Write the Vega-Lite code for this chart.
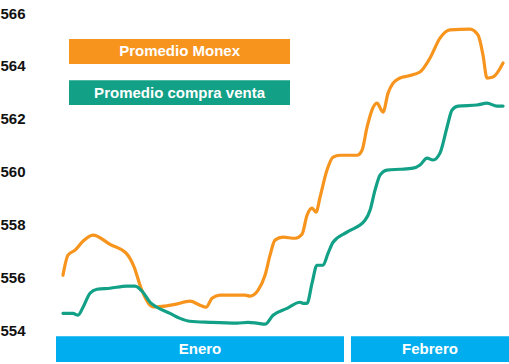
{
  "$schema": "https://vega.github.io/schema/vega-lite/v6.json",
  "width": 453,
  "height": 349,
  "autosize": {"type": "none"},
  "padding": {"left": 56, "top": 13, "right": 0, "bottom": 0},
  "config": {"view": {"stroke": null}, "font": "Liberation Sans"},
  "datasets": {
    "series": [
      {"serie": "Promedio Monex", "dia": 0.75, "valor": 556.08},
      {"serie": "Promedio Monex", "dia": 1.29, "valor": 556.84},
      {"serie": "Promedio Monex", "dia": 2.05, "valor": 557.03},
      {"serie": "Promedio Monex", "dia": 2.91, "valor": 557.37},
      {"serie": "Promedio Monex", "dia": 3.98, "valor": 557.6},
      {"serie": "Promedio Monex", "dia": 5.81, "valor": 557.25},
      {"serie": "Promedio Monex", "dia": 7.64, "valor": 556.88},
      {"serie": "Promedio Monex", "dia": 8.4, "valor": 556.4},
      {"serie": "Promedio Monex", "dia": 9.15, "valor": 555.6},
      {"serie": "Promedio Monex", "dia": 10.0, "valor": 555.0},
      {"serie": "Promedio Monex", "dia": 10.6, "valor": 554.88},
      {"serie": "Promedio Monex", "dia": 12.81, "valor": 554.98},
      {"serie": "Promedio Monex", "dia": 14.42, "valor": 555.1},
      {"serie": "Promedio Monex", "dia": 15.5, "valor": 554.95},
      {"serie": "Promedio Monex", "dia": 16.15, "valor": 554.87},
      {"serie": "Promedio Monex", "dia": 16.79, "valor": 555.21},
      {"serie": "Promedio Monex", "dia": 17.65, "valor": 555.33},
      {"serie": "Promedio Monex", "dia": 20.34, "valor": 555.33},
      {"serie": "Promedio Monex", "dia": 20.88, "valor": 555.29},
      {"serie": "Promedio Monex", "dia": 21.74, "valor": 555.51},
      {"serie": "Promedio Monex", "dia": 22.5, "valor": 556.08},
      {"serie": "Promedio Monex", "dia": 23.04, "valor": 556.84},
      {"serie": "Promedio Monex", "dia": 23.57, "valor": 557.41},
      {"serie": "Promedio Monex", "dia": 24.43, "valor": 557.52},
      {"serie": "Promedio Monex", "dia": 25.73, "valor": 557.48},
      {"serie": "Promedio Monex", "dia": 26.48, "valor": 557.63},
      {"serie": "Promedio Monex", "dia": 27.02, "valor": 558.35},
      {"serie": "Promedio Monex", "dia": 27.56, "valor": 558.62},
      {"serie": "Promedio Monex", "dia": 27.99, "valor": 558.47},
      {"serie": "Promedio Monex", "dia": 28.42, "valor": 559.03},
      {"serie": "Promedio Monex", "dia": 29.17, "valor": 560.06},
      {"serie": "Promedio Monex", "dia": 29.82, "valor": 560.55},
      {"serie": "Promedio Monex", "dia": 30.57, "valor": 560.62},
      {"serie": "Promedio Monex", "dia": 32.4, "valor": 560.62},
      {"serie": "Promedio Monex", "dia": 32.94, "valor": 560.81},
      {"serie": "Promedio Monex", "dia": 33.48, "valor": 561.68},
      {"serie": "Promedio Monex", "dia": 34.01, "valor": 562.33},
      {"serie": "Promedio Monex", "dia": 34.55, "valor": 562.59},
      {"serie": "Promedio Monex", "dia": 35.2, "valor": 562.25},
      {"serie": "Promedio Monex", "dia": 35.74, "valor": 562.97},
      {"serie": "Promedio Monex", "dia": 36.28, "valor": 563.35},
      {"serie": "Promedio Monex", "dia": 37.03, "valor": 563.54},
      {"serie": "Promedio Monex", "dia": 37.89, "valor": 563.62},
      {"serie": "Promedio Monex", "dia": 39.18, "valor": 563.77},
      {"serie": "Promedio Monex", "dia": 40.26, "valor": 564.3},
      {"serie": "Promedio Monex", "dia": 41.33, "valor": 565.05},
      {"serie": "Promedio Monex", "dia": 42.41, "valor": 565.36},
      {"serie": "Promedio Monex", "dia": 44.56, "valor": 565.39},
      {"serie": "Promedio Monex", "dia": 45.42, "valor": 565.17},
      {"serie": "Promedio Monex", "dia": 45.96, "valor": 564.41},
      {"serie": "Promedio Monex", "dia": 46.39, "valor": 563.54},
      {"serie": "Promedio Monex", "dia": 47.04, "valor": 563.58},
      {"serie": "Promedio Monex", "dia": 48.12, "valor": 564.11},
      {"serie": "Promedio compra venta", "dia": 0.75, "valor": 554.64},
      {"serie": "Promedio compra venta", "dia": 1.83, "valor": 554.64},
      {"serie": "Promedio compra venta", "dia": 2.37, "valor": 554.57},
      {"serie": "Promedio compra venta", "dia": 2.91, "valor": 554.87},
      {"serie": "Promedio compra venta", "dia": 3.66, "valor": 555.4},
      {"serie": "Promedio compra venta", "dia": 4.41, "valor": 555.55},
      {"serie": "Promedio compra venta", "dia": 5.81, "valor": 555.59},
      {"serie": "Promedio compra venta", "dia": 7.64, "valor": 555.67},
      {"serie": "Promedio compra venta", "dia": 8.5, "valor": 555.67},
      {"serie": "Promedio compra venta", "dia": 9.36, "valor": 555.44},
      {"serie": "Promedio compra venta", "dia": 10.12, "valor": 555.06},
      {"serie": "Promedio compra venta", "dia": 10.87, "valor": 554.87},
      {"serie": "Promedio compra venta", "dia": 12.27, "valor": 554.64},
      {"serie": "Promedio compra venta", "dia": 13.35, "valor": 554.45},
      {"serie": "Promedio compra venta", "dia": 14.42, "valor": 554.34},
      {"serie": "Promedio compra venta", "dia": 16.58, "valor": 554.3},
      {"serie": "Promedio compra venta", "dia": 19.48, "valor": 554.27},
      {"serie": "Promedio compra venta", "dia": 20.67, "valor": 554.3},
      {"serie": "Promedio compra venta", "dia": 21.64, "valor": 554.27},
      {"serie": "Promedio compra venta", "dia": 22.5, "valor": 554.23},
      {"serie": "Promedio compra venta", "dia": 23.36, "valor": 554.57},
      {"serie": "Promedio compra venta", "dia": 24.87, "valor": 554.83},
      {"serie": "Promedio compra venta", "dia": 26.26, "valor": 555.06},
      {"serie": "Promedio compra venta", "dia": 26.59, "valor": 555.02},
      {"serie": "Promedio compra venta", "dia": 27.02, "valor": 555.02},
      {"serie": "Promedio compra venta", "dia": 27.56, "valor": 555.78},
      {"serie": "Promedio compra venta", "dia": 28.09, "valor": 556.46},
      {"serie": "Promedio compra venta", "dia": 28.74, "valor": 556.46},
      {"serie": "Promedio compra venta", "dia": 29.28, "valor": 556.91},
      {"serie": "Promedio compra venta", "dia": 29.82, "valor": 557.33},
      {"serie": "Promedio compra venta", "dia": 31.32, "valor": 557.71},
      {"serie": "Promedio compra venta", "dia": 33.26, "valor": 558.16},
      {"serie": "Promedio compra venta", "dia": 33.8, "valor": 558.54},
      {"serie": "Promedio compra venta", "dia": 34.34, "valor": 559.3},
      {"serie": "Promedio compra venta", "dia": 34.88, "valor": 559.87},
      {"serie": "Promedio compra venta", "dia": 35.63, "valor": 560.06},
      {"serie": "Promedio compra venta", "dia": 37.03, "valor": 560.09},
      {"serie": "Promedio compra venta", "dia": 38.43, "valor": 560.13},
      {"serie": "Promedio compra venta", "dia": 39.18, "valor": 560.25},
      {"serie": "Promedio compra venta", "dia": 39.94, "valor": 560.51},
      {"serie": "Promedio compra venta", "dia": 40.58, "valor": 560.44},
      {"serie": "Promedio compra venta", "dia": 41.33, "valor": 560.7},
      {"serie": "Promedio compra venta", "dia": 42.09, "valor": 561.68},
      {"serie": "Promedio compra venta", "dia": 42.63, "valor": 562.33},
      {"serie": "Promedio compra venta", "dia": 43.27, "valor": 562.48},
      {"serie": "Promedio compra venta", "dia": 45.32, "valor": 562.52},
      {"serie": "Promedio compra venta", "dia": 46.39, "valor": 562.59},
      {"serie": "Promedio compra venta", "dia": 47.47, "valor": 562.48},
      {"serie": "Promedio compra venta", "dia": 48.12, "valor": 562.48}
    ],
    "meses": [
      {"mes": "Enero", "inicio": 0, "fin": 31},
      {"mes": "Febrero", "inicio": 31.75, "fin": 48.76}
    ]
  },
  "resolve": {"scale": {"color": "independent"}},
  "layer": [
    {
      "data": {"name": "meses"},
      "mark": {"type": "rect", "color": "#00AEEF"},
      "encoding": {
        "x": {"field": "inicio", "type": "quantitative", "scale": {"domain": [0, 48.76], "nice": false, "zero": false}, "axis": null},
        "x2": {"field": "fin"},
        "y": {"datum": 553.77, "type": "quantitative", "scale": {"domain": [552.8, 566], "nice": false, "zero": false}},
        "y2": {"datum": 552.8}
      }
    },
    {
      "data": {"name": "meses"},
      "transform": [{"calculate": "(datum.inicio + datum.fin) / 2", "as": "centro"}],
      "mark": {"type": "text", "color": "white", "fontWeight": "bold", "fontSize": 15, "baseline": "middle", "align": "center", "font": "Liberation Sans"},
      "encoding": {
        "x": {"field": "centro", "type": "quantitative"},
        "y": {"datum": 553.28, "type": "quantitative"},
        "text": {"field": "mes"}
      }
    },
    {
      "mark": {"type": "rule", "color": "#b5b5b5", "strokeWidth": 1.5},
      "encoding": {
        "x": {"datum": 0, "type": "quantitative"},
        "y": {"datum": 554, "type": "quantitative"},
        "y2": {"datum": 565.92}
      }
    },
    {
      "mark": {"type": "rule", "color": "#b5b5b5", "strokeWidth": 1.5},
      "encoding": {
        "x": {"datum": 0, "type": "quantitative"},
        "x2": {"datum": 48.76},
        "y": {"datum": 554, "type": "quantitative"}
      }
    },
    {
      "data": {"name": "series"},
      "mark": {"type": "line", "interpolate": "monotone", "strokeWidth": 3.2, "strokeCap": "round", "strokeJoin": "round"},
      "encoding": {
        "x": {"field": "dia", "type": "quantitative"},
        "y": {
          "field": "valor", "type": "quantitative",
          "axis": {
            "values": [554, 556, 558, 560, 562, 564, 566],
            "domain": false, "grid": false, "ticks": false, "title": null,
            "labelFontSize": 15, "labelFontWeight": "bold", "labelColor": "#111111",
            "labelPadding": 31, "labelFont": "Liberation Sans"
          }
        },
        "color": {
          "field": "serie", "type": "nominal",
          "scale": {"domain": ["Promedio Monex", "Promedio compra venta"], "range": ["#F7941D", "#12A086"]},
          "legend": null
        }
      }
    },
    {
      "data": {"values": [{"serie": "Promedio Monex"}]},
      "mark": {"type": "rect", "color": "#F7941D"},
      "encoding": {
        "x": {"datum": 1.4, "type": "quantitative"},
        "x2": {"datum": 25.19},
        "y": {"datum": 565.02, "type": "quantitative"},
        "y2": {"datum": 564.07}
      }
    },
    {
      "data": {"values": [{"serie": "Promedio Monex"}]},
      "mark": {"type": "text", "color": "white", "fontWeight": "bold", "fontSize": 15, "baseline": "middle", "align": "center", "font": "Liberation Sans"},
      "encoding": {
        "x": {"datum": 13.3, "type": "quantitative"},
        "y": {"datum": 564.55, "type": "quantitative"},
        "text": {"field": "serie"}
      }
    },
    {
      "data": {"values": [{"serie": "Promedio compra venta"}]},
      "mark": {"type": "rect", "color": "#12A086"},
      "encoding": {
        "x": {"datum": 1.4, "type": "quantitative"},
        "x2": {"datum": 25.19},
        "y": {"datum": 563.46, "type": "quantitative"},
        "y2": {"datum": 562.52}
      }
    },
    {
      "data": {"values": [{"serie": "Promedio compra venta"}]},
      "mark": {"type": "text", "color": "white", "fontWeight": "bold", "fontSize": 15, "baseline": "middle", "align": "center", "font": "Liberation Sans"},
      "encoding": {
        "x": {"datum": 13.3, "type": "quantitative"},
        "y": {"datum": 562.99, "type": "quantitative"},
        "text": {"field": "serie"}
      }
    }
  ]
}
